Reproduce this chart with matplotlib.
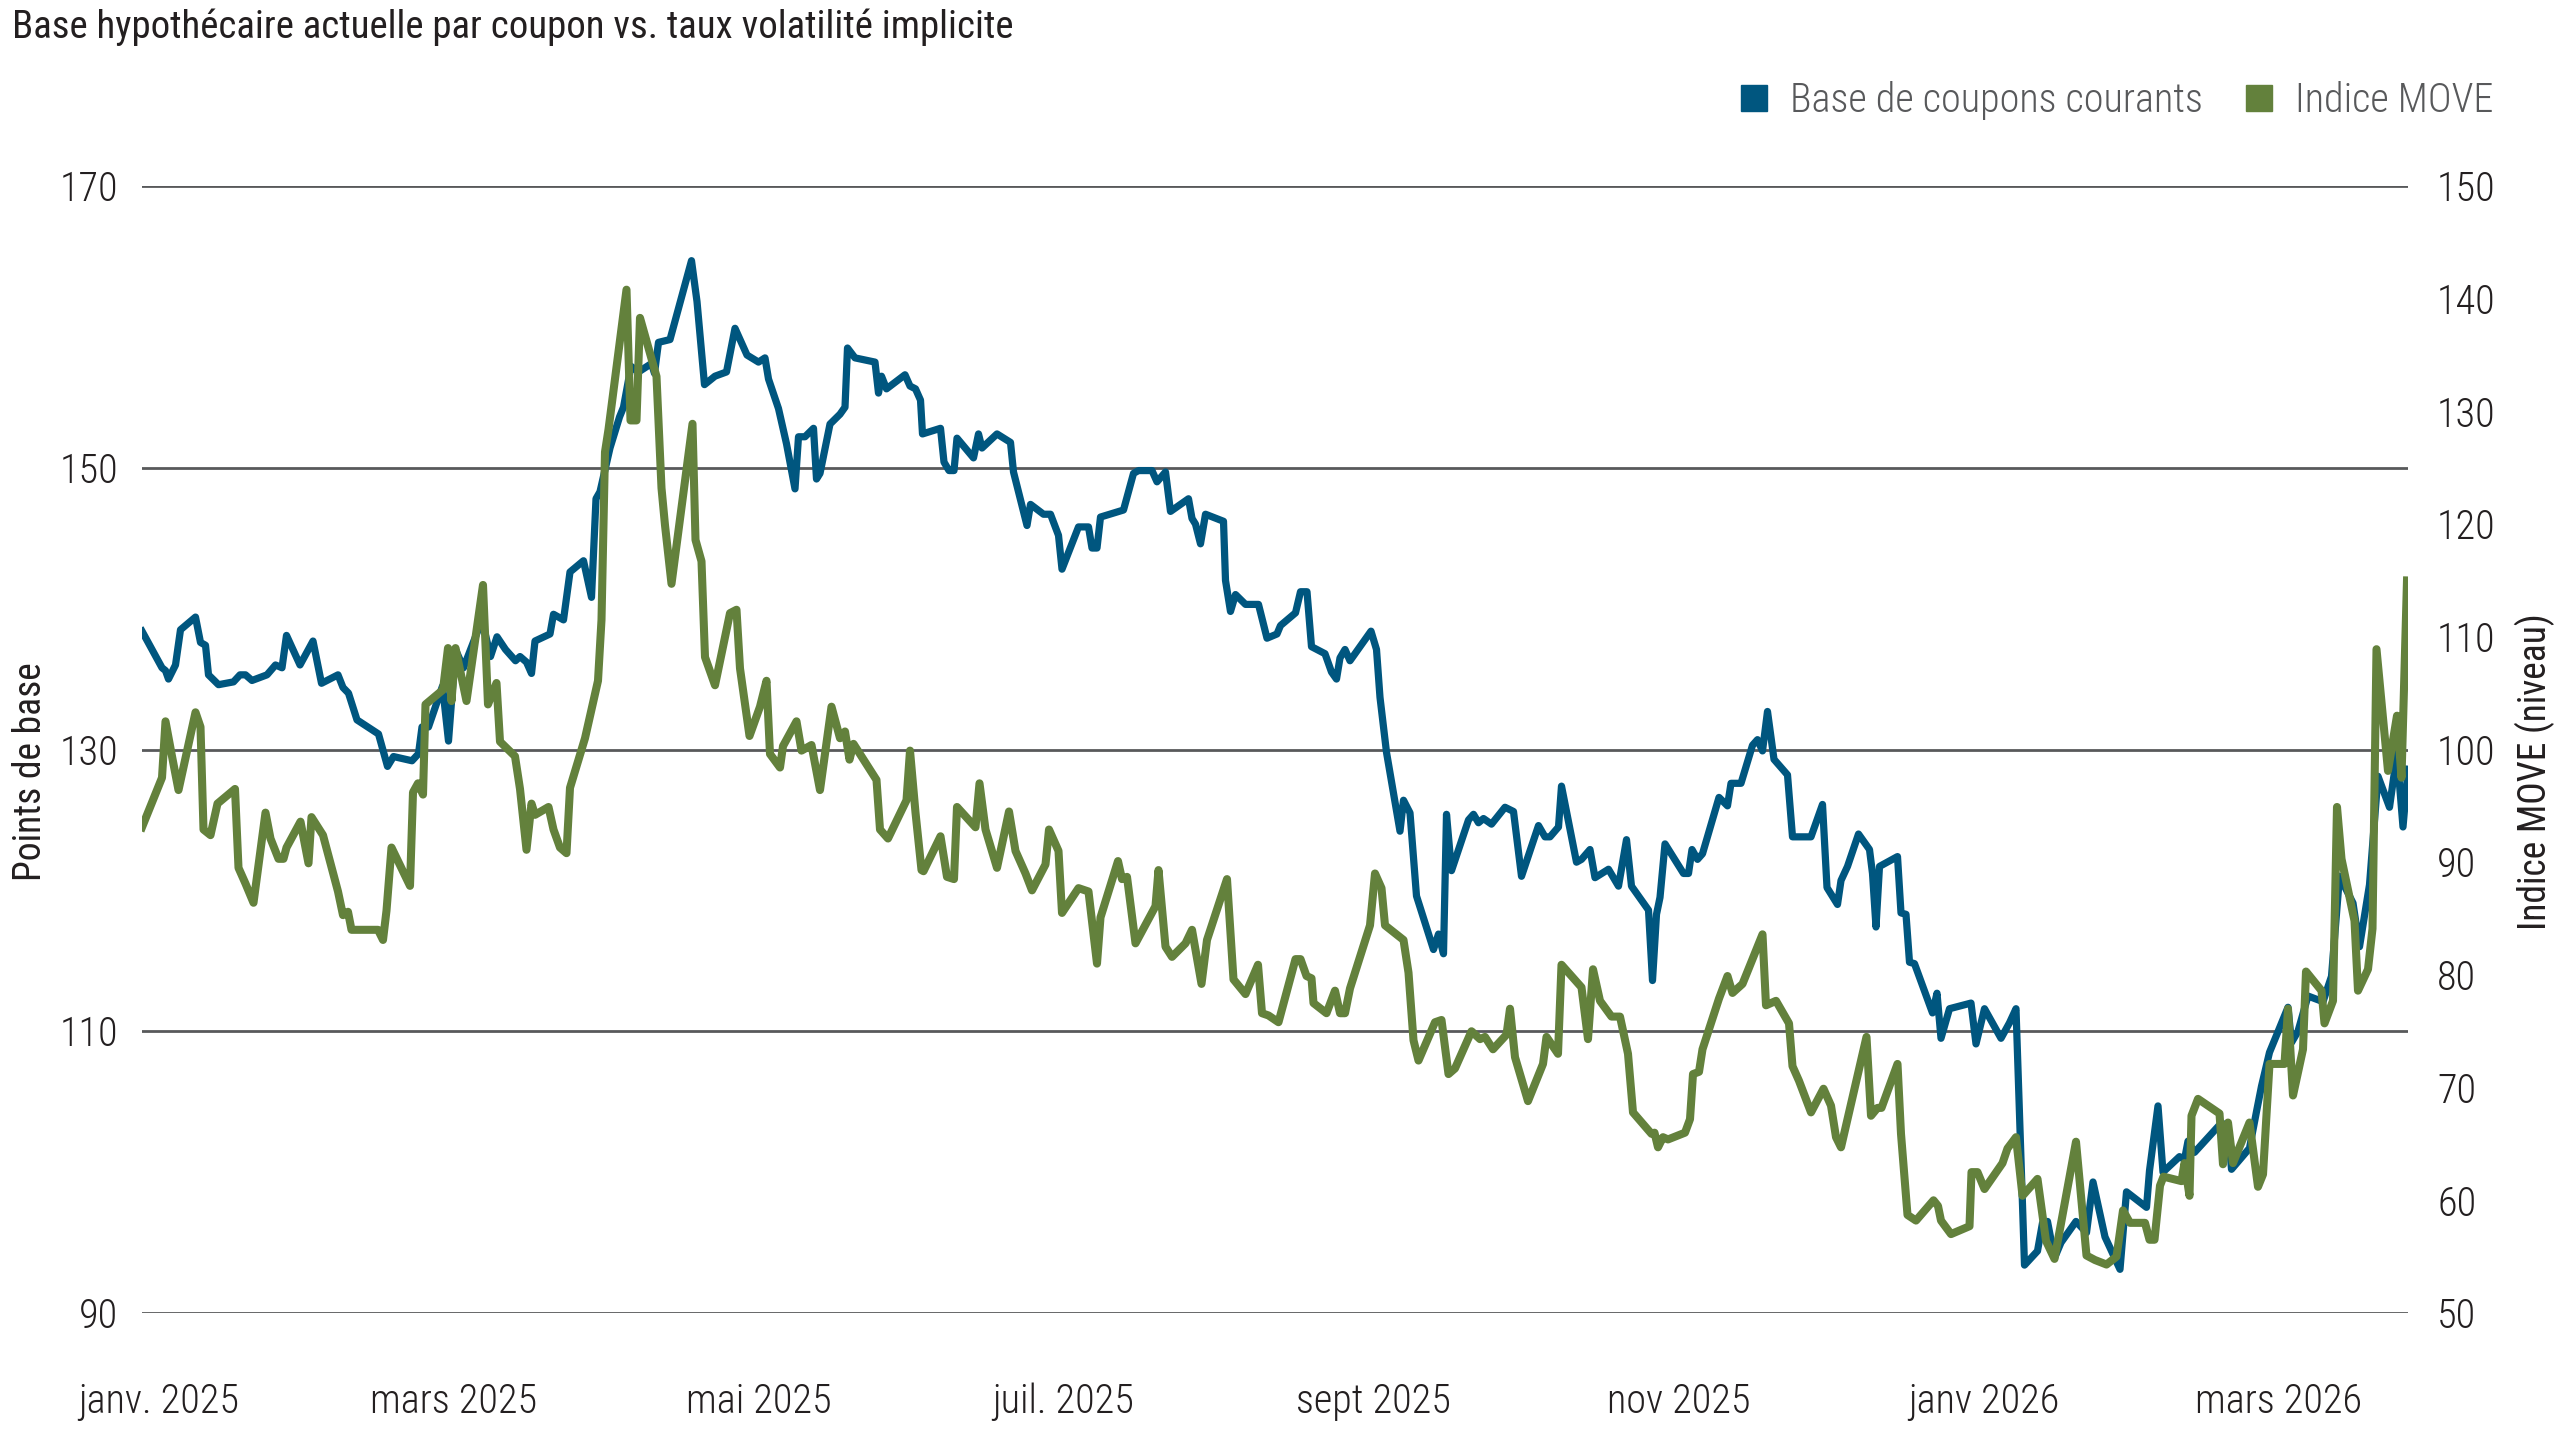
import numpy as np
import pandas as pd
import matplotlib
matplotlib.use("Agg")
from matplotlib import pyplot as plt
from matplotlib.lines import Line2D

plt.rcParams['font.family'] = ['Roboto Condensed', 'IBM Plex Sans Condensed', 'DejaVu Sans']
plt.rcParams['font.weight'] = 'light'

DEBUT = pd.Timestamp('2025-01-01')

# jours depuis le 1er janv. 2025
base_jours = [
    -3.3, 0.7, 1.4, 2.0, 3.4, 4.4, 7.4, 8.4, 9.4, 10.0, 12.0, 15.0, 16.3, 17.4, 18.7, 21.7, 23.4, 24.7,
    25.6, 28.3, 30.9, 32.6, 35.9, 36.9, 38.0, 39.7, 44.0, 45.8, 47.0, 50.7, 52.0, 52.7, 54.0, 56.8,
    58.0, 59.4, 61.0, 64.7, 66.4, 67.7, 69.4, 71.4, 72.3, 73.6, 74.6, 75.3, 78.3, 79.0, 81.0, 82.3,
    85.0, 86.6, 87.5, 88.3, 90.3, 92.2, 93.0, 94.5, 96.0, 98.6, 99.2, 100.0, 102.3, 106.6, 107.7,
    109.2, 111.3, 113.6, 115.3, 117.7, 120.0, 121.3, 122.0, 124.0, 125.6, 127.3, 128.0, 129.3, 131.0,
    131.6, 132.3, 134.3, 136.3, 137.3, 137.8, 139.3, 143.3, 144.0, 144.6, 145.6, 149.3, 150.3, 151.4,
    152.4, 152.8, 156.4, 157.1, 158.1, 159.1, 159.7, 163.0, 164.0, 164.7, 167.7, 170.4, 171.0, 173.7,
    174.4, 177.0, 178.4, 180.0, 180.7, 184.0, 186.0, 186.7, 187.7, 188.4, 193.0, 195.0, 196.0, 198.7,
    199.7, 201.4, 202.4, 206.0, 206.7, 207.4, 208.4, 209.4, 213.0, 213.4, 214.4, 215.4, 217.4, 220.0,
    221.7, 223.7, 224.4, 227.4, 228.4, 229.7, 230.6, 233.3, 234.6, 235.6, 236.3, 237.3, 238.3, 242.5,
    243.6, 244.3, 245.6, 248.3, 249.0, 250.3, 251.6, 255.0, 256.0, 257.0, 257.6, 258.6, 262.0, 263.0,
    264.0, 265.0, 266.6, 269.3, 271.0, 272.6, 276.0, 277.3, 278.3, 280.0, 280.6, 283.6, 284.6, 286.3,
    287.3, 290.0, 292.0, 293.6, 294.6, 298.0, 298.8, 299.6, 300.3, 301.3, 305.0, 306.0, 306.7, 307.8,
    308.8, 312.1, 313.8, 314.5, 316.5, 318.8, 319.8, 320.8, 321.8, 323.1, 325.8, 326.8, 330.5, 332.8,
    333.7, 335.8, 336.5, 337.8, 340.0, 342.2, 342.8, 343.5, 344.2, 347.8, 348.5, 349.5, 350.2, 351.2,
    354.8, 355.7, 356.5, 358.2, 362.5, 363.5, 365.2, 368.5, 370.2, 371.5, 373.2, 375.8, 376.8, 377.8,
    379.2, 380.5, 383.5, 385.6, 386.9, 389.3, 392.3, 393.6, 397.6, 398.2, 399.9, 400.9, 404.2, 405.2,
    405.9, 407.2, 412.6, 413.9, 414.6, 418.2, 419.6, 420.6, 422.2, 425.9, 426.6, 427.9, 429.9, 432.9,
    434.6, 436.2, 438.9, 440.2, 442.2, 443.9, 446.2, 447.7, 448.9, 449.9,
]
base_valeurs = [
    138.4, 135.8, 135.6, 135.0, 136.0, 138.5, 139.4, 137.6, 137.4, 135.3, 134.6, 134.8, 135.3, 135.3,
    134.9, 135.3, 136.0, 135.8, 138.1, 136.0, 137.7, 134.7, 135.3, 134.4, 134.0, 132.1, 131.1, 128.8,
    129.5, 129.2, 129.7, 131.6, 131.6, 134.5, 130.6, 137.1, 135.8, 139.2, 136.6, 138.0, 137.1, 136.3,
    136.6, 136.2, 135.4, 137.7, 138.2, 139.6, 139.2, 142.6, 143.4, 140.8, 147.8, 148.3, 151.4, 153.6,
    154.3, 157.2, 156.8, 157.4, 156.7, 158.9, 159.1, 164.7, 161.8, 155.9, 156.5, 156.8, 159.9, 158.0,
    157.5, 157.8, 156.3, 154.2, 151.7, 148.5, 152.2, 152.2, 152.8, 149.2, 149.6, 153.1, 153.8, 154.3,
    158.5, 157.8, 157.5, 155.3, 156.5, 155.6, 156.6, 155.8, 155.6, 154.8, 152.4, 152.8, 150.4, 149.8,
    149.8, 152.1, 150.7, 152.4, 151.4, 152.4, 151.8, 149.7, 145.9, 147.4, 146.7, 146.7, 145.2, 142.8,
    145.8, 145.8, 144.3, 144.3, 146.5, 147.0, 149.6, 149.8, 149.8, 149.0, 149.7, 146.9, 147.8, 146.4,
    146.0, 144.6, 146.7, 146.2, 142.0, 139.8, 141.0, 140.3, 140.3, 137.9, 138.2, 138.8, 139.7, 141.2,
    141.2, 137.3, 136.8, 135.5, 135.0, 136.5, 137.1, 136.3, 138.4, 137.1, 133.7, 129.8, 124.2, 126.4,
    125.5, 119.6, 115.8, 116.9, 115.5, 125.4, 121.4, 125.0, 125.4, 124.8, 125.1, 124.7, 125.9, 125.6,
    121.0, 124.6, 123.8, 123.8, 124.5, 127.4, 122.0, 122.2, 122.9, 120.9, 121.5, 120.3, 123.6, 120.3,
    118.6, 113.6, 118.3, 119.5, 123.3, 121.2, 121.2, 122.9, 122.2, 122.6, 126.6, 126.0, 127.6, 127.6,
    130.3, 130.7, 129.9, 132.7, 129.3, 128.2, 123.8, 123.8, 126.1, 120.2, 119.0, 120.7, 121.7, 124.0,
    122.9, 121.2, 117.4, 121.7, 122.4, 118.4, 118.3, 114.9, 114.8, 111.3, 112.7, 109.5, 111.6, 112.0,
    109.1, 111.6, 109.5, 110.6, 111.6, 93.4, 94.4, 96.4, 96.5, 93.9, 95.0, 96.5, 95.7, 99.3, 95.4,
    93.1, 98.6, 97.5, 100.1, 104.7, 100.0, 101.1, 100.9, 102.2, 101.4, 103.5, 103.2, 100.2, 101.7,
    104.3, 106.1, 108.5, 111.7, 109.2, 110.0, 112.5, 112.1, 113.9, 121.0, 119.1, 116.0, 120.4, 128.1,
    125.9, 129.7, 124.5, 128.6,
]

move_jours = [
    -3.3, 0.7, 1.4, 2.7, 4.0, 7.4, 8.4, 9.0, 10.4, 11.8, 15.3, 16.0, 17.4, 19.0, 21.4, 22.4, 24.0, 25.0,
    25.6, 28.4, 30.0, 30.6, 32.9, 35.9, 36.9, 37.9, 38.6, 43.9, 44.9, 45.6, 46.6, 50.3, 50.9, 51.9,
    52.9, 53.4, 56.9, 57.9, 58.6, 59.4, 61.6, 64.9, 65.9, 67.6, 68.3, 71.3, 72.3, 73.6, 74.6, 75.3,
    78.0, 79.0, 80.3, 81.6, 82.3, 85.3, 87.9, 88.6, 89.3, 90.0, 93.6, 94.4, 95.6, 96.3, 99.6, 100.6,
    101.3, 102.6, 106.8, 107.4, 108.6, 109.3, 111.3, 114.3, 115.6, 116.3, 118.2, 120.3, 121.6, 122.3,
    124.3, 124.9, 127.6, 128.6, 130.6, 132.3, 134.6, 136.3, 137.3, 138.2, 139.0, 143.6, 144.3, 145.9,
    149.6, 150.3, 151.4, 152.6, 153.0, 156.4, 157.7, 159.1, 159.7, 163.4, 164.2, 165.4, 167.7, 170.1,
    171.4, 173.4, 174.7, 177.4, 178.1, 180.0, 180.7, 184.0, 186.0, 187.7, 188.4, 191.9, 192.7, 193.7,
    195.4, 199.4, 200.0, 201.4, 202.7, 205.4, 206.7, 208.6, 209.7, 213.7, 215.0, 217.4, 219.9, 220.7,
    222.0, 224.0, 227.4, 228.4, 229.6, 230.6, 231.0, 233.6, 235.3, 236.3, 237.3, 238.3, 242.3, 243.3,
    244.6, 245.3, 249.0, 250.0, 251.0, 252.0, 255.3, 256.6, 258.0, 259.3, 262.6, 264.3, 265.3, 266.9,
    269.6, 270.3, 271.3, 273.9, 276.9, 277.6, 279.9, 280.6, 284.6, 285.9, 286.9, 288.3, 290.6, 292.3,
    293.9, 294.9, 298.6, 299.2, 299.9, 300.9, 301.9, 305.3, 306.3, 306.9, 308.1, 308.8, 312.1, 313.8,
    314.8, 316.8, 320.8, 321.5, 323.5, 326.1, 326.8, 328.1, 330.5, 333.0, 334.5, 335.5, 336.5, 341.6,
    342.5, 343.8, 344.6, 347.8, 348.5, 349.8, 351.5, 355.0, 355.9, 356.5, 358.5, 362.2, 362.6, 363.8,
    365.2, 368.8, 369.8, 371.5, 372.8, 375.8, 377.5, 379.2, 383.5, 385.6, 387.3, 389.6, 391.6, 392.9,
    394.3, 397.3, 398.2, 399.2, 400.3, 401.0, 404.6, 405.2, 406.2, 406.6, 407.9, 412.2, 412.9, 413.9,
    414.9, 418.2, 419.9, 420.9, 422.2, 425.2, 425.9, 426.9, 428.9, 429.5, 432.6, 433.2, 434.9, 435.7,
    436.6, 439.2, 439.9, 441.9, 442.8, 443.6, 445.9, 447.7, 448.6, 449.7,
]
move_valeurs = [
    93.1, 97.5, 102.5, 99.4, 96.4, 103.3, 102.0, 92.9, 92.4, 95.2, 96.5, 89.5, 88.1, 86.4, 94.4, 92.1,
    90.3, 90.3, 91.3, 93.6, 89.9, 94.0, 92.4, 87.4, 85.3, 85.6, 84.0, 84.0, 83.1, 85.7, 91.3, 87.9,
    96.2, 97.0, 96.0, 104.0, 105.3, 109.0, 104.3, 109.0, 104.3, 114.6, 104.0, 105.9, 100.7, 99.4,
    96.5, 91.1, 95.2, 94.2, 94.9, 92.9, 91.3, 90.8, 96.6, 101.0, 106.1, 111.5, 126.4, 128.4, 140.8,
    129.2, 129.2, 138.3, 133.1, 123.2, 119.9, 114.7, 128.9, 118.6, 116.7, 108.2, 105.7, 112.1, 112.4,
    107.2, 101.2, 103.8, 106.1, 99.6, 98.4, 100.3, 102.5, 99.9, 100.4, 96.4, 103.8, 101.0, 101.6,
    99.1, 100.5, 97.3, 92.9, 92.1, 95.5, 99.9, 94.4, 89.3, 89.2, 92.3, 88.7, 88.5, 94.9, 93.1, 97.0,
    92.9, 89.5, 94.5, 91.0, 89.0, 87.5, 89.8, 92.9, 91.0, 85.5, 87.7, 87.4, 81.0, 85.1, 90.1, 88.5,
    88.7, 82.8, 86.1, 89.3, 82.5, 81.6, 82.8, 84.0, 79.2, 83.1, 88.5, 79.6, 78.3, 80.9, 76.6, 76.4,
    75.8, 81.4, 81.4, 79.9, 79.7, 77.5, 76.6, 78.6, 76.6, 76.6, 78.8, 84.4, 89.0, 87.7, 84.4, 83.1,
    80.2, 74.2, 72.4, 75.8, 76.0, 71.2, 71.7, 75.0, 74.3, 74.5, 73.4, 74.7, 77.0, 72.7, 68.8, 72.1,
    74.5, 73.0, 80.9, 78.9, 74.3, 80.5, 77.7, 76.3, 76.3, 73.0, 67.8, 65.9, 66.0, 64.7, 65.6, 65.4,
    66.0, 67.2, 71.2, 71.4, 73.4, 77.9, 79.9, 78.4, 79.2, 83.6, 77.3, 77.7, 75.7, 71.9, 70.6, 67.8,
    69.9, 68.4, 65.6, 64.7, 74.5, 67.5, 68.2, 68.2, 72.1, 65.9, 58.7, 58.2, 60.0, 59.5, 58.2, 57.0,
    57.7, 62.5, 62.5, 61.0, 63.3, 64.6, 65.6, 60.4, 61.9, 56.4, 54.8, 65.2, 55.1, 54.7, 54.3, 55.0,
    59.1, 58.0, 58.0, 56.5, 56.5, 61.3, 62.1, 61.7, 63.3, 60.4, 67.5, 69.0, 67.7, 63.2, 66.9, 63.3,
    66.9, 61.2, 62.3, 72.1, 72.1, 77.0, 69.3, 73.4, 80.3, 78.6, 75.7, 77.7, 94.9, 90.3, 84.8, 78.6,
    80.5, 84.1, 108.9, 98.1, 103.0, 97.5, 115.0,
]

ticks_dates = ['2025-01-01', '2025-03-01', '2025-05-01', '2025-07-01',
               '2025-09-01', '2025-11-01', '2026-01-01', '2026-03-01']
ticks_labels = ['janv. 2025', 'mars 2025', 'mai 2025', 'juil. 2025',
                'sept 2025', 'nov 2025', 'janv 2026', 'mars 2026']
ticks_gauche = [90, 110, 130, 150, 170]
ticks_droite = [50, 60, 70, 80, 90, 100, 110, 120, 130, 140, 150]

BLEU = '#00567f'
VERT = '#63813c'
GRILLE = '#58595b'
TEXTE = '#231f20'
FS = 29

base_dates = DEBUT + pd.to_timedelta(np.array(base_jours), unit='D')
move_dates = DEBUT + pd.to_timedelta(np.array(move_jours), unit='D')

fig = plt.figure(figsize=(25.6, 14.4), dpi=100)
ax = fig.add_axes([142 / 2560, 1 - 1313 / 1440, 2266 / 2560, 1127 / 1440])
ax2 = ax.twinx()

ax.plot(base_dates, base_valeurs, color=BLEU, lw=5.2, solid_joinstyle='round')
ax2.plot(move_dates, move_valeurs, color=VERT, lw=5.8, solid_joinstyle='round')

ax.set_xlim(min(base_dates[0], move_dates[0]), max(base_dates[-1], move_dates[-1]))
ax.set_ylim(90, 170)
ax2.set_ylim(50, 150)
ax.set_yticks(ticks_gauche)
ax2.set_yticks(ticks_droite)
ax.set_xticks(pd.to_datetime(ticks_dates))
ax.set_xticklabels(ticks_labels)

ax.grid(axis='y', color=GRILLE, lw=2.0)
ax.set_axisbelow(True)
for a in (ax, ax2):
    for s in a.spines.values():
        s.set_visible(False)
ax.tick_params(axis='y', length=0, pad=17, labelsize=FS, labelcolor=TEXTE)
ax.tick_params(axis='x', length=0, pad=50, labelsize=FS, labelcolor=TEXTE)
ax2.tick_params(axis='y', length=0, pad=21, labelsize=FS, labelcolor=TEXTE)

ax.set_ylabel('Points de base', fontsize=FS - 2, color=TEXTE, fontweight='normal')
ax.yaxis.set_label_coords(-0.041, 0.48)
ax2.set_ylabel('Indice MOVE (niveau)', fontsize=FS - 2, color=TEXTE, fontweight='normal')
ax2.yaxis.set_label_coords(1.047, 0.48)

fig.text(12 / 2560, 1 - 8 / 1440, 'Base hypothécaire actuelle par coupon vs. taux volatilité implicite',
         ha='left', va='top', fontsize=FS - 1, color=TEXTE, fontweight='normal')

poignees = [Line2D([], [], marker='s', ls='none', ms=19, color=BLEU),
            Line2D([], [], marker='s', ls='none', ms=19, color=VERT)]
fig.legend(poignees, ['Base de coupons courants', 'Indice MOVE'], loc='center right',
           bbox_to_anchor=(2530 / 2560, 1 - 101 / 1440), ncol=2, frameon=False, fontsize=FS,
           labelcolor='#58595b', handlelength=0.8, handletextpad=0.5, columnspacing=1.0)

fig.savefig('out.png', dpi=100)
